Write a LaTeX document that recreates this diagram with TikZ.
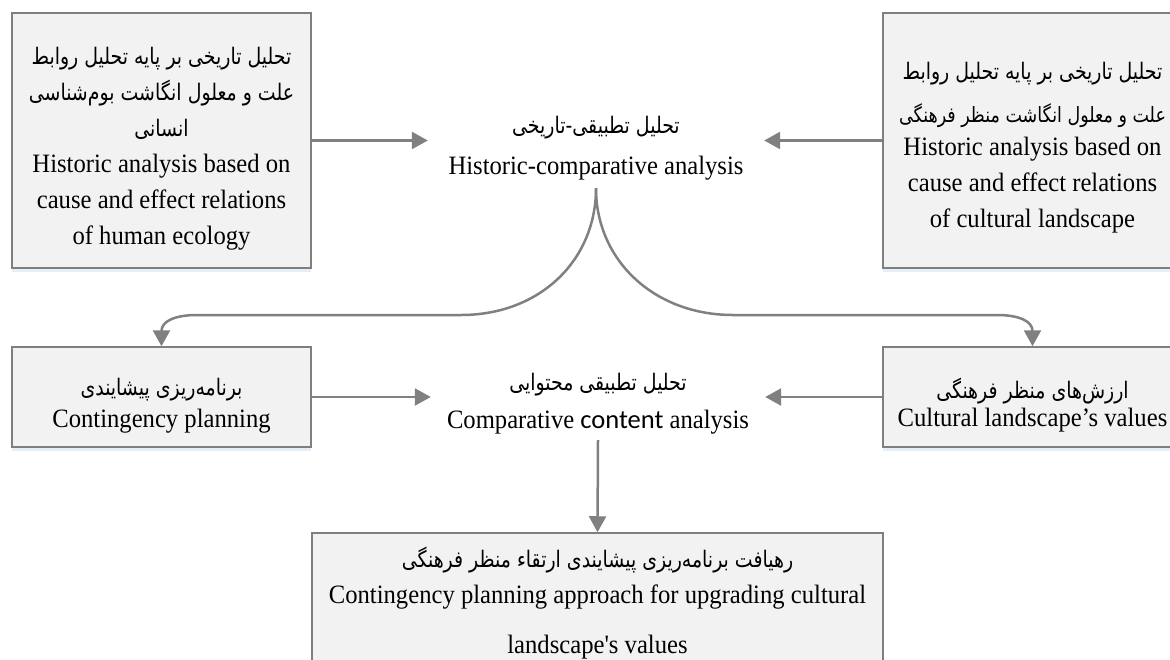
\documentclass[tikz,border=0pt]{standalone}
\usepackage{fontspec}
\setmainfont{Liberation Serif}[FakeStretch=0.93]
\newfontfamily\farsi[Script=Arabic,Scale=0.86,FakeStretch=0.83]{DejaVu Sans}
\newfontfamily\calib{Carlito}
\newfontfamily\serifplain[Ligatures=TeXOff,FakeStretch=0.93]{Liberation Serif}
\TeXXeTstate=1
\usetikzlibrary{arrows.meta,shadows}
\definecolor{boxfill}{HTML}{F2F2F2}
\definecolor{boxline}{HTML}{7F7F7F}
\definecolor{arrowgray}{HTML}{808080}
\definecolor{shadowblue}{HTML}{D6E3F2}
\newcommand{\fa}[1]{{\farsi\beginR #1\endR}}
\newcommand{\lift}[1]{\rule{0pt}{#1pt}}
\begin{document}
\begin{tikzpicture}[x=1pt,y=-1pt,
  every node/.style={font=\fontsize{26.5}{36}\selectfont, align=center, inner sep=0pt},
  graybox/.style={draw=boxline, fill=boxfill, line width=1.5pt,
    drop shadow={shadow xshift=0pt, shadow yshift=-4pt, opacity=0.6, fill=shadowblue}},
  plaintext/.style={},
  arr/.style={draw=arrowgray, line width=2.5pt, -{Triangle[width=17pt,length=16pt]}}
]
\useasboundingbox (0,0) rectangle (1170,659);
\clip (0,0) rectangle (1170,659);

\node[graybox, minimum width=299pt, minimum height=255pt] (tl) at (161.5,140.5)
  {\lift{33}\fa{تحلیل تاریخی بر پایه تحلیل روابط}\\
   \fa{علت و معلول انگاشت بوم‌شناسی}\\
   \fa{انسانی}\\
   Historic analysis based on\\
   cause and effect relations\\
   of human ecology};

\node[graybox, minimum width=299pt, minimum height=255pt] (tr) at (1032.5,140.5)
  {\lift{32}\fa{تحلیل تاریخی بر پایه تحلیل روابط}\\[7pt]
   {\fontsize{24.5}{36}\selectfont\fa{علت و معلول انگاشت منظر فرهنگی}}\\[-3pt]
   Historic analysis based on\\
   cause and effect relations\\
   of cultural landscape};

\node[plaintext, minimum width=336pt, minimum height=84pt] (ctop) at (596,146)
  {\lift{22}\fa{تحلیل تطبیقی-تاریخی}\\[5pt]
   Historic-comparative analysis};

\node[graybox, minimum width=299pt, minimum height=100pt] (ml) at (161.5,397)
  {\lift{35}\fa{برنامه‌ریزی پیشایندی}\\[-4pt]
   Contingency planning};

\node[graybox, minimum width=299pt, minimum height=100pt] (mr) at (1032.5,397)
  {\lift{37}\fa{ارزش‌های منظر فرهنگی}\\[-8pt]
   Cultural landscape’s values};

\node[plaintext, minimum width=334pt, minimum height=80pt] (cmid) at (598,400)
  {\lift{25}\fa{تحلیل تطبیقی محتوایی}\\[2pt]
   Comparative {\calib content} analysis};

\node[graybox, minimum width=571pt, minimum height=140pt] (bot) at (597.5,603)
  {\fa{رهیافت برنامه‌ریزی پیشایندی ارتقاء منظر فرهنگی}\\
   Contingency planning approach for upgrading cultural\\[14pt]
   {\serifplain landscape's values}};

\coordinate (lh1) at (461,315);
\coordinate (lh2) at (197,315);
\coordinate (rh1) at (733,315);
\coordinate (rh2) at (997,315);

\draw[arr] (tl.east) -- (tl.east -| ctop.west);
\draw[arr] (tr.west) -- (tr.west -| ctop.east);
\draw[arr] (ml.east) -- (ml.east -| cmid.west);
\draw[arr] (mr.west) -- (mr.west -| cmid.east);
\draw[arr] (cmid.south) -- (bot.north);
\draw[arr] (ctop.south) .. controls +(0,72) and +(79,0) .. (lh1) -- (lh2)
  .. controls +(-22,0) and +(0,-25) .. (ml.north);
\draw[arr] (ctop.south) .. controls +(0,72) and +(-79,0) .. (rh1) -- (rh2)
  .. controls +(22,0) and +(0,-25) .. (mr.north);
\end{tikzpicture}
\end{document}
